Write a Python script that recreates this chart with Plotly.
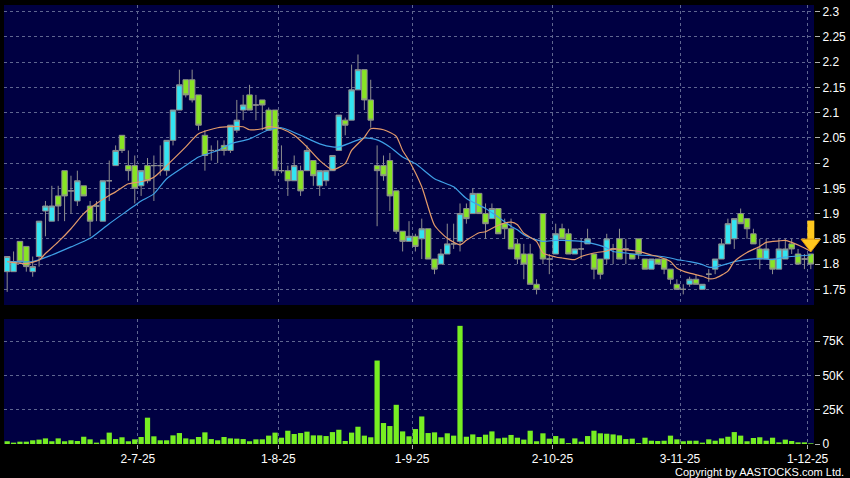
import plotly.graph_objects as go

# ---------------- data ----------------
open_ = [1.785,1.785,1.845,1.835,1.785,1.815,1.905,1.885,1.935,1.985,
         1.945,1.925,1.955,1.915,1.915,1.885,1.965,1.995,2.055,1.995,
         1.995,1.955,1.995,1.995,1.995,1.985,2.045,2.105,2.165,2.165,
         2.135,2.055,2.025,2.025,2.035,2.025,2.065,2.105,2.135,2.115,
         2.125,2.105,2.105,1.985,1.985,1.965,1.985,1.985,2.005,1.955,
         1.965,1.985,2.025,2.085,2.085,2.145,2.185,2.125,1.995,1.995,
         2.005,1.945,1.865,1.845,1.855,1.85,1.87,1.81,1.80,1.82,
         1.84,1.845,1.91,1.90,1.94,1.90,1.89,1.91,1.88,1.87,
         1.84,1.82,1.82,1.76,1.90,1.81,1.82,1.87,1.86,1.82,
         1.83,1.84,1.82,1.81,1.81,1.83,1.85,1.83,1.82,1.85,
         1.81,1.79,1.81,1.81,1.79,1.76,1.75,1.76,1.77,1.75,
         1.78,1.79,1.81,1.84,1.85,1.90,1.89,1.86,1.83,1.81,
         1.81,1.79,1.81,1.84,1.82,1.81,1.82]
high = [1.815,1.825,1.845,1.835,1.815,1.885,1.925,1.955,1.955,1.985,
        1.975,1.985,1.955,1.925,1.925,1.965,2.005,2.035,2.055,2.025,
        2.015,1.985,2.01,2.015,2.035,2.045,2.105,2.185,2.165,2.185,
        2.135,2.065,2.035,2.045,2.045,2.075,2.125,2.135,2.155,2.135,
        2.125,2.11,2.105,2.035,1.995,2.015,1.995,2.035,2.005,1.985,
        1.985,2.015,2.095,2.09,2.195,2.215,2.185,2.165,2.035,2.015,
        2.02,1.945,1.865,1.885,1.86,1.89,1.87,1.81,1.83,1.88,
        1.88,1.92,1.92,1.95,1.94,1.92,1.92,1.91,1.89,1.89,
        1.85,1.84,1.84,1.77,1.90,1.82,1.88,1.88,1.87,1.83,
        1.85,1.87,1.82,1.81,1.86,1.84,1.87,1.85,1.82,1.85,
        1.81,1.81,1.81,1.81,1.79,1.77,1.76,1.775,1.78,1.76,
        1.79,1.81,1.85,1.89,1.89,1.91,1.89,1.87,1.85,1.85,
        1.81,1.85,1.85,1.85,1.83,1.82,1.82]
low = [1.745,1.785,1.80,1.785,1.775,1.795,1.855,1.885,1.885,1.885,
       1.90,1.915,1.935,1.855,1.885,1.885,1.925,1.995,2.02,1.965,
       1.92,1.935,1.96,1.925,1.975,1.975,2.035,2.105,2.13,2.12,
       2.065,1.985,2.005,2.0,2.015,2.02,2.06,2.085,2.105,2.085,
       2.065,2.065,1.975,1.98,1.935,1.965,1.935,1.985,1.955,1.935,
       1.955,1.985,2.025,2.055,2.085,2.145,2.105,2.07,1.875,1.965,
       1.905,1.86,1.825,1.845,1.825,1.81,1.81,1.78,1.80,1.82,
       1.83,1.825,1.88,1.90,1.90,1.85,1.89,1.86,1.85,1.83,
       1.80,1.77,1.76,1.74,1.80,1.78,1.82,1.85,1.82,1.82,
       1.81,1.84,1.77,1.77,1.80,1.80,1.81,1.80,1.81,1.81,
       1.79,1.79,1.80,1.78,1.76,1.75,1.74,1.755,1.76,1.75,
       1.765,1.78,1.81,1.84,1.83,1.88,1.85,1.84,1.79,1.81,
       1.78,1.79,1.81,1.82,1.80,1.79,1.79]
close = [1.815,1.805,1.805,1.795,1.795,1.885,1.915,1.915,1.915,1.935,
         1.945,1.965,1.935,1.885,1.915,1.965,1.965,2.025,2.025,1.985,
         1.95,1.985,1.965,1.995,1.995,2.045,2.105,2.155,2.135,2.125,
         2.075,2.015,2.025,2.025,2.025,2.075,2.085,2.115,2.105,2.115,
         2.115,2.065,1.985,1.985,1.965,1.995,1.945,2.025,1.975,1.985,
         1.985,2.015,2.095,2.075,2.145,2.185,2.125,2.085,1.985,1.975,
         1.935,1.865,1.845,1.855,1.835,1.87,1.81,1.79,1.82,1.84,
         1.84,1.90,1.89,1.94,1.90,1.88,1.91,1.86,1.87,1.83,
         1.81,1.80,1.76,1.75,1.81,1.81,1.86,1.85,1.82,1.83,
         1.83,1.85,1.79,1.78,1.85,1.83,1.81,1.83,1.81,1.82,
         1.79,1.81,1.80,1.79,1.77,1.75,1.75,1.77,1.76,1.76,
         1.78,1.81,1.84,1.88,1.89,1.88,1.87,1.84,1.81,1.83,
         1.79,1.83,1.83,1.83,1.80,1.81,1.80]
volume_k = [2.0,1.0,1.7,1.7,2.7,3.2,4.1,2.0,4.1,2.0,
            2.7,2.2,5.3,3.4,1.0,3.2,8.3,3.6,4.9,2.0,
            3.4,5.1,19.2,5.6,2.7,2.7,6.3,8.0,4.1,3.4,
            5.1,8.5,3.6,2.7,5.1,4.1,3.9,3.6,2.0,3.4,
            3.4,6.1,8.3,4.6,9.7,7.3,8.0,9.0,6.3,6.3,
            5.8,8.7,10.4,2.2,8.3,12.6,6.1,4.9,60.9,15.3,
            13.1,28.6,9.2,5.6,10.9,20.1,8.0,8.5,4.9,7.8,
            6.1,86.2,5.3,7.0,5.1,6.8,9.2,4.1,4.6,6.6,
            4.6,3.2,9.7,2.0,7.8,3.9,5.8,4.1,0.7,4.1,
            1.7,5.8,9.7,7.8,7.5,7.0,6.3,3.6,3.9,0.7,
            4.6,2.4,2.2,2.4,6.1,3.4,2.0,2.4,2.4,1.0,
            3.4,2.4,4.1,5.3,8.7,6.1,2.0,4.4,4.9,2.4,
            4.6,1.2,3.2,2.2,1.2,1.2,0.5]
volume = [v * 1000 for v in volume_k]
idx = list(range(len(close)))

# moving averages (sample index, value)
ma10_idx = [0,3,5,6,8,10,12,14,16,17,19,21,23,25,28,30,33,35,37,38,40,41,43,45,47,49,51,
            53,54,56,57,59,61,62,63,65,67,69,71,72,74,75,77,79,80,81,83,84,86,87,89,90,92,
            94,95,97,99,101,102,104,105,107,109,110,111,113,114,116,118,119,121,122,123,125,126]
ma10_val = [1.805,1.801,1.808,1.821,1.844,1.870,1.900,1.920,1.936,1.943,1.959,1.963,1.972,
            1.995,2.032,2.058,2.070,2.072,2.072,2.066,2.068,2.072,2.068,2.055,2.032,2.005,
            1.987,1.999,2.025,2.051,2.068,2.066,2.053,2.025,2.005,1.953,1.877,1.851,1.838,
            1.847,1.862,1.864,1.877,1.883,1.878,1.861,1.845,1.822,1.814,1.812,1.809,1.815,
            1.822,1.826,1.830,1.828,1.825,1.818,1.815,1.805,1.792,1.782,1.776,1.771,1.772,
            1.786,1.805,1.823,1.835,1.843,1.846,1.847,1.843,1.832,1.825]
ma20_idx = [0,4,7,10,13,16,19,21,23,25,28,30,33,35,38,41,43,44,46,49,51,52,54,56,58,60,62,
            64,67,70,72,75,77,79,80,81,83,84,86,87,89,90,92,94,95,97,99,102,104,105,107,109,
            110,111,113,114,116,118,120,122,124,126]
ma20_val = [1.805,1.805,1.818,1.834,1.851,1.880,1.907,1.925,1.939,1.969,1.995,2.012,2.025,
            2.038,2.048,2.066,2.070,2.066,2.055,2.038,2.032,2.032,2.041,2.050,2.046,2.032,
            2.012,1.999,1.969,1.953,1.930,1.910,1.893,1.875,1.868,1.858,1.848,1.845,1.847,
            1.847,1.846,1.845,1.840,1.832,1.825,1.822,1.818,1.816,1.812,1.809,1.805,1.799,
            1.794,1.794,1.801,1.805,1.809,1.811,1.809,1.814,1.816,1.818]

price_ticks = [1.75,1.8,1.85,1.9,1.95,2.0,2.05,2.1,2.15,2.2,2.25,2.3]
price_tick_text = ["1.75","1.8","1.85","1.9","1.95","2","2.05","2.1","2.15","2.2","2.25","2.3"]
vol_ticks = [0,25000,50000,75000]
vol_tick_text = ["0","25K","50K","75K"]
date_labels = ["2-7-25","1-8-25","1-9-25","2-10-25","3-11-25","1-12-25"]
date_label_idx = [21,43,64,86,106,126]

# ---------------- styling ----------------
W, H = 850, 478
NAVY = "#000042"
GRID = "#5f6690"
CYAN = "#33e4f2"
LIME = "#88e424"
VOL = "#77ee22"
WICK = "#8e8e8e"
FONT = "Liberation Sans"

grid_x = [i - 0.5 for i in date_label_idx]   # date boundaries

fig = go.Figure()
fig.add_trace(go.Candlestick(
    x=idx, open=open_, high=high, low=low, close=close,
    increasing=dict(line=dict(color=WICK, width=1), fillcolor=CYAN),
    decreasing=dict(line=dict(color=WICK, width=1), fillcolor=LIME),
    whiskerwidth=0, xaxis="x", yaxis="y", showlegend=False, hoverinfo="skip"))
fig.add_trace(go.Scatter(x=ma20_idx, y=ma20_val, mode="lines",
                         line=dict(color="#3fa0e6", width=1.2, shape="spline", smoothing=0.6),
                         xaxis="x", yaxis="y", showlegend=False, hoverinfo="skip"))
fig.add_trace(go.Scatter(x=ma10_idx, y=ma10_val, mode="lines",
                         line=dict(color="#e39a6a", width=1.2, shape="spline", smoothing=0.6),
                         xaxis="x", yaxis="y", showlegend=False, hoverinfo="skip"))
# arrow pointing at the latest candle
last = idx[-1]
fig.add_trace(go.Scatter(x=[last], y=[high[-1] + 0.044], mode="markers",
                         marker=dict(symbol="line-ns", size=16,
                                     line=dict(color="#ffc81e", width=7)),
                         cliponaxis=False,
                         xaxis="x", yaxis="y", showlegend=False, hoverinfo="skip"))
fig.add_trace(go.Scatter(x=[last], y=[high[-1] + 0.021], mode="markers",
                         marker=dict(symbol="triangle-down", size=17, color="#ffc81e",
                                     line=dict(color="#e0960a", width=1)),
                         cliponaxis=False,
                         xaxis="x", yaxis="y", showlegend=False, hoverinfo="skip"))
fig.add_trace(go.Bar(x=idx, y=volume, marker=dict(color=VOL, line=dict(width=0)),
                     xaxis="x2", yaxis="y2", showlegend=False, hoverinfo="skip"))

xdom = [4 / W, 814 / W]
common_x = dict(domain=xdom, range=[-0.5, len(idx) - 0.5], tickvals=grid_x,
                showgrid=True, gridcolor=GRID, griddash="3px,3px", gridwidth=1,
                zeroline=False, showline=False, fixedrange=True)
fig.update_layout(
    width=W, height=H, margin=dict(l=0, r=0, t=0, b=0, autoexpand=False),
    paper_bgcolor="#000000", plot_bgcolor=NAVY,
    font=dict(family=FONT, color="#ffffff", size=12),
    boxgap=0.14, boxgroupgap=0, bargap=0.18, hovermode=False,
    xaxis=dict(**common_x, anchor="y", showticklabels=False, ticks="",
               rangeslider=dict(visible=False)),
    yaxis=dict(domain=[1 - 305 / H, 1 - 5 / H], range=[1.719, 2.313], side="right",
               anchor="x", tickvals=price_ticks, ticktext=price_tick_text,
               ticks="outside", ticklen=5, tickcolor="#b0b0b0",
               showgrid=True, gridcolor=GRID, griddash="3px,3px", zeroline=False,
               tickfont=dict(size=12, color="#ffffff", family=FONT), fixedrange=True),
    xaxis2=dict(**common_x, anchor="y2", ticktext=date_labels, ticks="outside",
                ticklen=4, tickcolor="#b0b0b0",
                tickfont=dict(size=12, color="#ffffff", family=FONT)),
    yaxis2=dict(domain=[1 - 444 / H, 1 - 319 / H], range=[0, 91200], side="right",
                anchor="x2", tickvals=vol_ticks, ticktext=vol_tick_text,
                ticks="outside", ticklen=5, tickcolor="#b0b0b0",
                showgrid=True, gridcolor=GRID, griddash="3px,3px", zeroline=False,
                tickfont=dict(size=12, color="#ffffff", family=FONT), fixedrange=True),
    annotations=[dict(text="Copyright by AASTOCKS.com Ltd.", xref="paper", yref="paper",
                      x=846 / W, y=1 - 472 / H, xanchor="right", yanchor="middle",
                      showarrow=False, font=dict(size=11, color="#ffffff", family=FONT))],
)
fig.write_html("out.html", config={"displayModeBar": False, "staticPlot": True},
               post_script="document.body.style.margin='0';document.body.style.overflow='hidden';")
